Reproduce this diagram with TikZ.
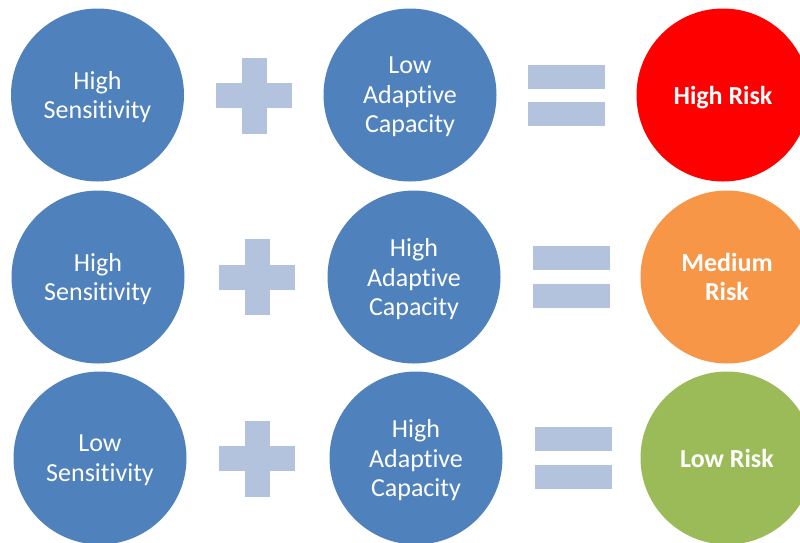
\documentclass[tikz,border=0pt]{standalone}
\usepackage{fontspec}
\setmainfont{Carlito}[Ligatures=NoCommon]
\usetikzlibrary{positioning}
\definecolor{factorblue}{HTML}{4F81BD}
\definecolor{opblue}{HTML}{B3C3DD}
\definecolor{riskhigh}{HTML}{FF0000}
\definecolor{riskmed}{HTML}{F79646}
\definecolor{risklow}{HTML}{9BBB59}
\newcommand{\nolig}{\kern0pt} % keeps "t" and "i" apart
\tikzset{
x=1pt, y=-1pt, % pixel-like units, y downwards
factor/.style={circle, fill=factorblue, minimum size=173pt, inner sep=0pt, text depth=0pt, text=white, align=center, font=\fontsize{26}{29.5}\selectfont}, % blue input circles
risk/.style={factor, font=\bfseries\fontsize{26}{29}\selectfont}, % coloured result circles
hbar/.style={rectangle, fill=opblue, minimum width=76pt, minimum height=25pt, inner sep=0pt}, % plus, horizontal part
vbar/.style={hbar, minimum width=25pt, minimum height=76pt}, % plus, vertical part
eqbar/.style={rectangle, fill=opblue, minimum width=77pt, minimum height=24pt, inner sep=0pt}, % one bar of the equals sign
}

\begin{document}
\begin{tikzpicture}
      \useasboundingbox (0,0) rectangle (800,542);
      \clip (0,0) rectangle (800,542);
      % row 1
      \node[factor] (sens1) at (97.5,95) {High\\Sensit\nolig ivity};
      \node[hbar] (plus1) at (254,95.5) {};
      \node[vbar] at (plus1) {};
      \node[factor] (adapt1) at (410,95) {Low\\Adapt\nolig ive\\Capacity};
      \coordinate (eq1) at (566.5,95.5);
      \node[eqbar, above=6.5pt of eq1] {};
      \node[eqbar, below=6.5pt of eq1] {};
      \node[risk, fill=riskhigh] (risk1) at (723,95) {High Risk};
      % row 2
      \node[factor] (sens2) at (98,277) {High\\Sensit\nolig ivity};
      \node[hbar] (plus2) at (257,277) {};
      \node[vbar] at (plus2) {};
      \node[factor] (adapt2) at (414,277) {High\\Adapt\nolig ive\\Capacity};
      \coordinate (eq2) at (571,277);
      \node[eqbar, above=6.5pt of eq2] {};
      \node[eqbar, below=6.5pt of eq2] {};
      \node[risk, fill=riskmed] (risk2) at (727,277) {Medium\\Risk};
      % row 3
      \node[factor] (sens3) at (100,458) {Low\\Sensit\nolig ivity};
      \node[hbar] (plus3) at (257,458.5) {};
      \node[vbar] at (plus3) {};
      \node[factor] (adapt3) at (416,458) {High\\Adapt\nolig ive\\Capacity};
      \coordinate (eq3) at (573,458);
      \node[eqbar, above=6.5pt of eq3] {};
      \node[eqbar, below=6.5pt of eq3] {};
      \node[risk, fill=risklow] (risk3) at (727,458) {Low Risk};
    \end{tikzpicture}
\end{document}
